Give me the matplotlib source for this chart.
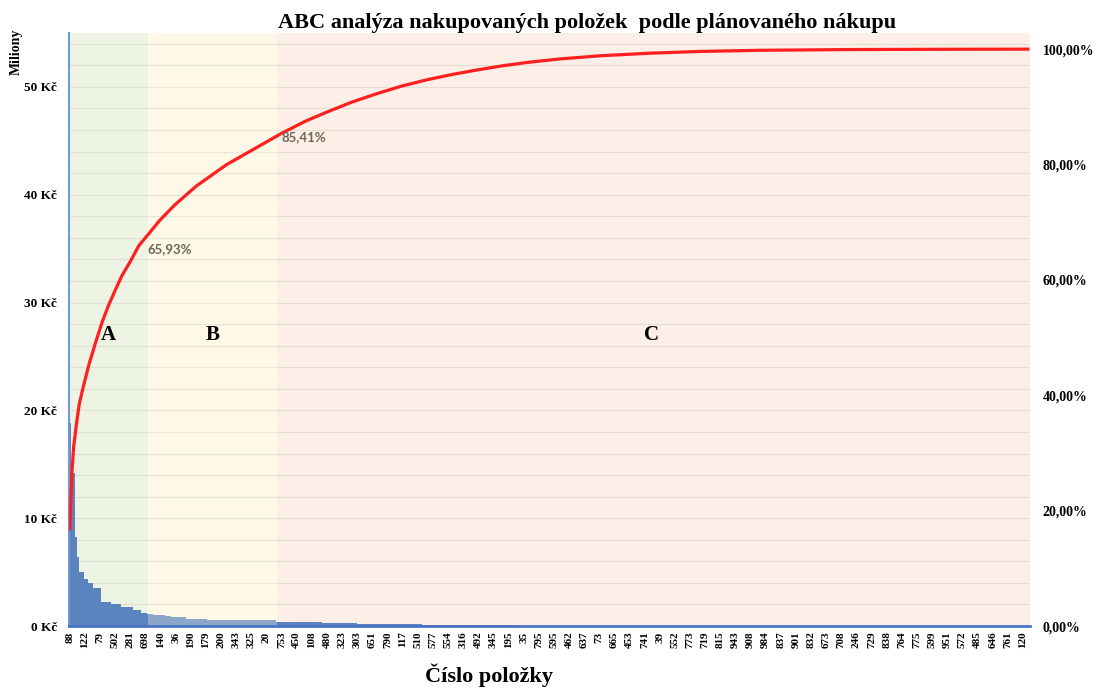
import matplotlib
matplotlib.use("Agg")
import matplotlib.pyplot as plt
import numpy as np
from matplotlib.ticker import FuncFormatter, MultipleLocator

plt.rcParams["font.family"] = ["Liberation Serif", "DejaVu Serif"]
plt.rcParams["font.weight"] = "bold"

N_ITEMS = 1016

# bar runs: number of consecutive items and value (mil. Kc)
run_counts = [2, 4, 2, 2, 5, 5, 5, 9, 10, 11, 12, 9, 6,
              7, 12, 6, 16, 23, 26, 47,
              48, 37, 69, 99, 544]
run_values = [18.8, 14.2, 8.3, 6.4, 5.0, 4.4, 4.0, 3.5, 2.25, 2.0, 1.8, 1.5, 1.25,
              1.11, 0.99, 0.93, 0.81, 0.68, 0.58, 0.53,
              0.40, 0.28, 0.20, 0.10, 0.02]

# cumulative share (red line)
line_items = [0, 1, 2, 4, 7, 10, 14, 20, 27, 34, 41, 48, 55, 64, 73,
              83, 95, 111, 134, 166, 196, 224, 249, 272, 298, 325, 351,
              378, 404, 431, 457, 484, 518, 561, 614, 666, 730, 825, 931, 1015]
line_pct = [16.6, 21.0, 26.0, 31.0, 35.0, 38.5, 41.3, 45.2, 49.0, 52.6, 55.6,
            58.2, 60.7, 63.2, 65.93, 67.9, 70.3, 73.0, 76.3, 80.0, 82.8, 85.41,
            87.5, 89.1, 90.8, 92.3, 93.6, 94.7, 95.6, 96.4, 97.1, 97.7, 98.3,
            98.85, 99.3, 99.6, 99.8, 99.93, 99.98, 100.0]

tick_labels = ["88", "122", "79", "502", "281", "698", "140", "36", "190", "179",
               "200", "343", "325", "20", "753", "450", "108", "480", "323", "303",
               "651", "790", "117", "510", "577", "554", "316", "492", "345", "195",
               "35", "795", "595", "462", "637", "73", "665", "453", "741", "39",
               "552", "773", "719", "815", "943", "908", "984", "837", "901", "832",
               "673", "708", "246", "729", "838", "764", "775", "599", "951", "572",
               "485", "646", "761", "120"]
TICK_STEP = 16

# ABC class boundaries (item index)
end_a = 83
end_b = 220

fig = plt.figure(figsize=(10.99, 6.99), dpi=100)
ax = fig.add_axes([0.0631, 0.1044, 0.8741, 0.8484])
ax2 = ax.twinx()

ax.set_xlim(-0.5, N_ITEMS - 0.5)
ax.set_ylim(0, 55)
ax2.set_ylim(0, 1.028)

# class bands
ax.axvspan(-0.5, end_a - 0.5, color="#edf4e4", zorder=0.1, lw=0)
ax.axvspan(end_a - 0.5, end_b - 0.5, color="#fef8e6", zorder=0.1, lw=0)
ax.axvspan(end_b - 0.5, N_ITEMS - 0.5, color="#fdefe7", zorder=0.1, lw=0)

# bars
starts = np.concatenate([[0], np.cumsum(run_counts)[:-1]])
ax.bar(starts - 0.5, run_values, width=run_counts, align="edge",
       color="#5b84be", lw=0, zorder=1)
# lighter overlay on B band like in the original
ax.axvspan(end_a - 0.5, end_b - 0.5, color="#fef8e6", alpha=0.3, zorder=1.5, lw=0)

# grid every 2 mil.
ax.yaxis.set_major_locator(MultipleLocator(10))
ax.yaxis.set_minor_locator(MultipleLocator(2))
ax.grid(axis="y", which="both", color="#e4ddd4", lw=0.8, zorder=0.5)
ax.set_axisbelow(True)

ax.yaxis.set_major_formatter(FuncFormatter(lambda v, p: f"{v:.0f} Kč"))
ax.tick_params(axis="y", which="both", length=0, pad=9, labelsize=9.5)

ax.set_xticks([i * TICK_STEP for i in range(len(tick_labels))])
ax.set_xticklabels(tick_labels, rotation=90, fontsize=8)
ax.tick_params(axis="x", length=0, pad=4)

ax2.plot(line_items, np.array(line_pct) / 100, color="#ff1f1f", lw=2.3, zorder=3,
         solid_capstyle="butt", solid_joinstyle="round")
ax2.yaxis.set_major_locator(MultipleLocator(0.2))
ax2.yaxis.set_major_formatter(
    FuncFormatter(lambda v, p: f"{v * 100:.2f}%".replace(".", ",")))
ax2.tick_params(axis="y", length=0, pad=9, labelsize=10)

for a in (ax, ax2):
    for side in ("top", "right", "left", "bottom"):
        a.spines[side].set_visible(False)
ax.spines["left"].set_visible(True)
ax.spines["left"].set_color("#7397d0")
ax.spines["left"].set_linewidth(1.5)
ax.spines["bottom"].set_visible(True)
ax.spines["bottom"].set_color("#4a74c4")
ax.spines["bottom"].set_linewidth(2)

# class letters
ax.text(40.4, 27.0, "A", ha="center", va="center", fontsize=15)
ax.text(151.5, 27.0, "B", ha="center", va="center", fontsize=15)
ax.text(615.7, 27.0, "C", ha="center", va="center", fontsize=15)

# data labels
ax2.text(81.7, 0.653, "65,93%", ha="left", va="center", fontsize=9.5,
         family=["Lato", "DejaVu Sans"], fontweight="bold", color="#6b6757", zorder=4)
ax2.text(224.4, 0.847, "85,41%", ha="left", va="center", fontsize=9.5,
         family=["Lato", "DejaVu Sans"], fontweight="bold", color="#6b6757", zorder=4)

fig.text(0.534, 0.967, "ABC analýza nakupovaných položek  podle plánovaného nákupu",
         ha="center", va="center", fontsize=16)
fig.text(0.445, 0.0343, "Číslo položky", ha="center", va="center", fontsize=16)
fig.text(0.0146, 0.9256, "Miliony", ha="center", va="center", rotation=90, fontsize=10)

fig.savefig("out.png", dpi=100)
